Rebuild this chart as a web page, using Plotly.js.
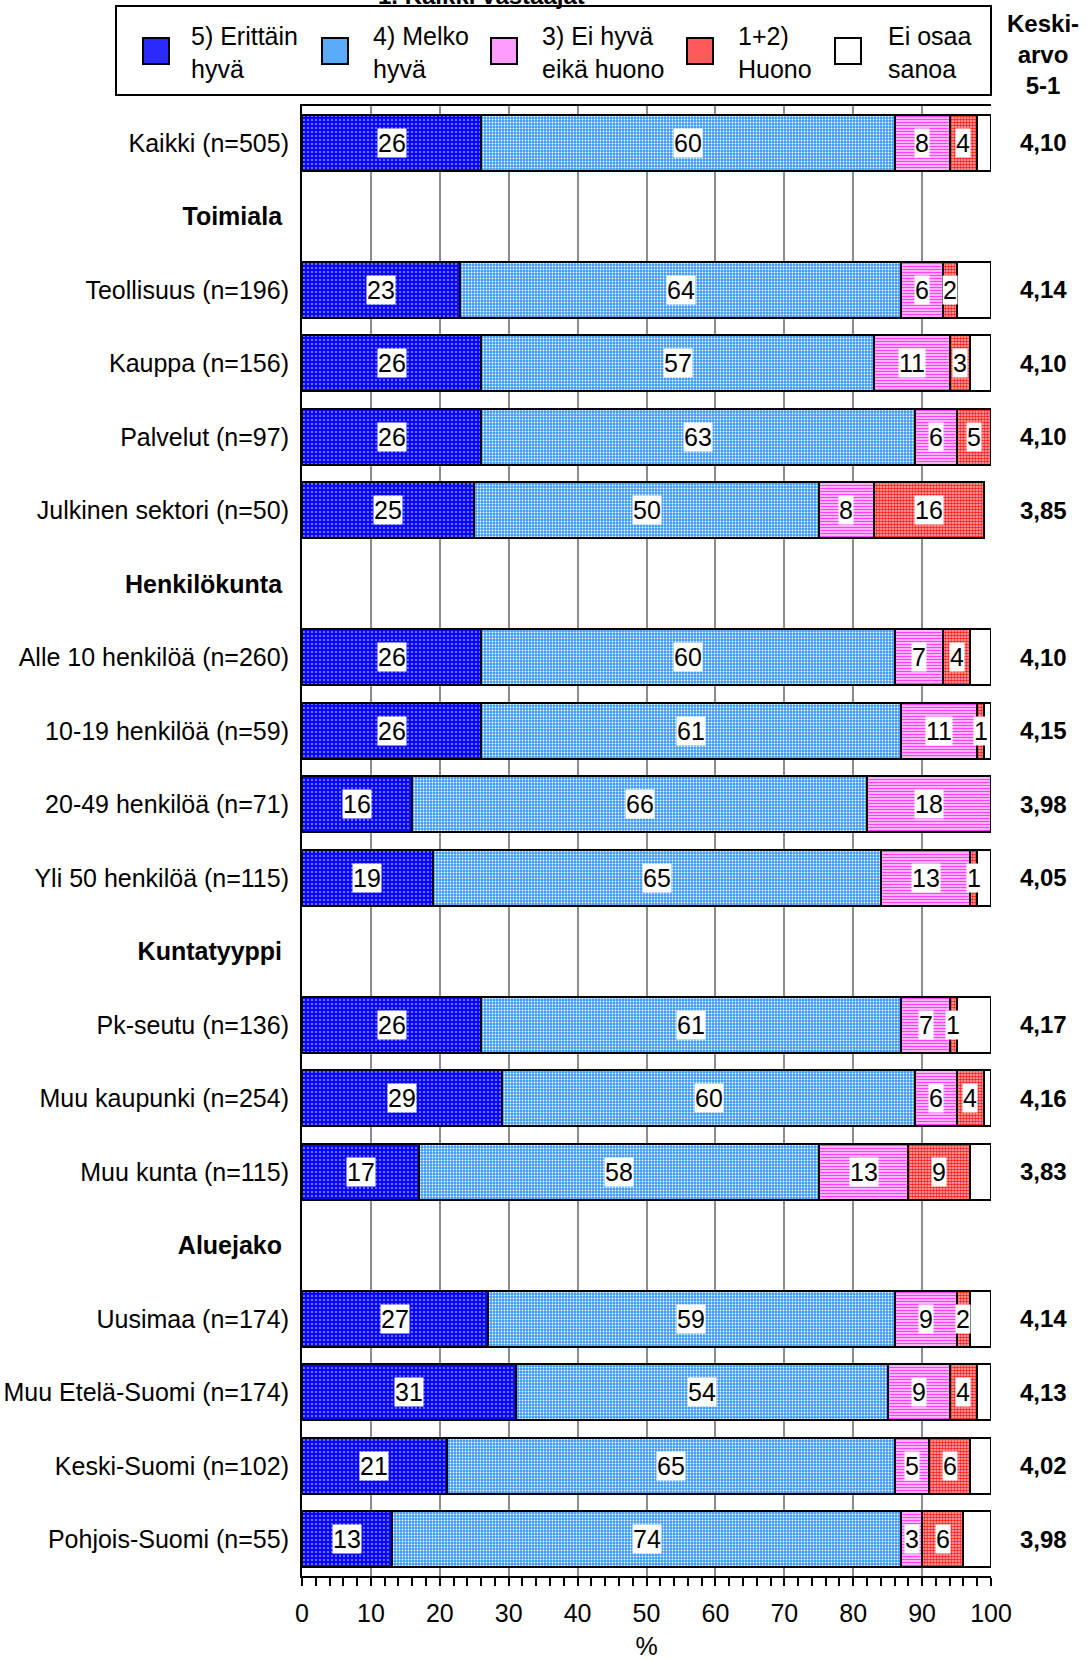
<!DOCTYPE html>
<html>
<head>
<meta charset="utf-8">
<script src="https://cdn.plot.ly/plotly-3.0.1.min.js"></script>
<style>
  html, body { margin: 0; padding: 0; background: #ffffff; }
  #chart { width: 1091px; height: 1660px; }
</style>
</head>
<body>
<div id="chart"></div>
<script>
// Rows of the chart, top to bottom; group headings have no bars.
const categories = [
  'Kaikki (n=505)',
  'Toimiala',
  'Teollisuus (n=196)',
  'Kauppa (n=156)',
  'Palvelut (n=97)',
  'Julkinen sektori (n=50)',
  'Henkilökunta',
  'Alle 10 henkilöä (n=260)',
  '10-19 henkilöä (n=59)',
  '20-49 henkilöä (n=71)',
  'Yli 50 henkilöä (n=115)',
  'Kuntatyyppi',
  'Pk-seutu (n=136)',
  'Muu kaupunki (n=254)',
  'Muu kunta (n=115)',
  'Aluejako',
  'Uusimaa (n=174)',
  'Muu Etelä-Suomi (n=174)',
  'Keski-Suomi (n=102)',
  'Pohjois-Suomi (n=55)'
];
const headings = ['Toimiala', 'Henkilökunta', 'Kuntatyyppi', 'Aluejako'];

// Shares in percent
const erittainHyva = [26, null, 23, 26, 26, 25, null, 26, 26, 16, 19, null, 26, 29, 17, null, 27, 31, 21, 13];
const melkoHyva    = [60, null, 64, 57, 63, 50, null, 60, 61, 66, 65, null, 61, 60, 58, null, 59, 54, 65, 74];
const eiHyvaEika   = [8,  null, 6,  11, 6,  8,  null, 7,  11, 18, 13, null, 7,  6,  13, null, 9,  9,  5,  3];
const huono        = [4,  null, 2,  3,  5,  16, null, 4,  1,  0,  1,  null, 1,  4,  9,  null, 2,  4,  6,  6];
const eiOsaa       = [2,  null, 5,  3,  0,  0,  null, 3,  1,  0,  2,  null, 5,  1,  3,  null, 3,  2,  3,  4];

// Mean on the scale 5-1
const keskiarvo = ['4,10', '', '4,14', '4,10', '4,10', '3,85', '', '4,10', '4,15', '3,98', '4,05', '',
                   '4,17', '4,16', '3,83', '', '4,14', '4,13', '4,02', '3,98'];

const seriesNames = ['5) Erittäin<br>hyvä', '4) Melko<br>hyvä', '3) Ei hyvä<br>eikä huono', '1+2)<br>Huono', 'Ei osaa<br>sanoa'];
const xTicks = [0, 10, 20, 30, 40, 50, 60, 70, 80, 90, 100];

const FONT = 'Liberation Sans, Arial, Helvetica, sans-serif';
const FS = 25;

const styles = [
  { bg: '#0808ff', fg: '#ffffff', shape: '.', size: 4, solidity: 0.12, swatch: '#2a2aff' },
  { bg: '#3898ff', fg: '#ffffff', shape: '.', size: 3, solidity: 0.3, swatch: '#5aaaf8' },
  { bg: '#ffffff', fg: '#ff40ff', shape: '-', size: 3, solidity: 0.6, swatch: '#ff9cff' },
  { bg: '#ffc0c0', fg: '#ff1a1a', shape: '.', size: 3, solidity: 0.6, swatch: '#ff5a5a' },
  { bg: '#ffffff', fg: '#ffffff', shape: '', size: 3, solidity: 0.3, swatch: '#ffffff' }
];
const allSeries = [erittainHyva, melkoHyva, eiHyvaEika, huono, eiOsaa];

const traces = allSeries.map((vals, k) => {
  const st = styles[k];
  const marker = { color: st.bg, line: { color: '#000000', width: 2 } };
  if (st.shape) {
    marker.pattern = { shape: st.shape, fgcolor: st.fg, bgcolor: st.bg, size: st.size, solidity: st.solidity, fillmode: 'replace' };
  }
  return {
    type: 'bar',
    orientation: 'h',
    name: seriesNames[k],
    x: vals,
    y: categories,
    marker: marker,
    hoverinfo: 'skip',
    showlegend: false
  };
});

const annotations = [];

// Value labels in white boxes, centred on each segment
categories.forEach((cat, i) => {
  let start = 0;
  for (let k = 0; k < 4; k++) {
    const v = allSeries[k][i];
    if (v === null || v === undefined) continue;
    if (v > 0) {
      annotations.push({
        x: start + v / 2, y: cat, xref: 'x', yref: 'y',
        text: String(v), showarrow: false,
        bgcolor: '#ffffff', borderpad: 0,
        font: { family: FONT, size: FS, color: '#000000' }
      });
    }
    start += v;
  }
});

// Mean column on the right
annotations.push({
  xref: 'paper', yref: 'paper', x: 1.0755, y: 1.0347,
  xanchor: 'center', yanchor: 'middle', showarrow: false,
  text: '<b>Keski-<br>arvo<br>5-1</b>',
  font: { family: FONT, size: 24, color: '#000000' }
});
categories.forEach((cat, i) => {
  if (!keskiarvo[i]) return;
  annotations.push({
    xref: 'paper', yref: 'y', x: 1.0755, y: cat,
    xanchor: 'center', yanchor: 'middle', showarrow: false,
    text: '<b>' + keskiarvo[i] + '</b>',
    font: { family: FONT, size: 24, color: '#000000' }
  });
});

// Sub-title, mostly above the top edge
annotations.push({
  xref: 'paper', yref: 'paper', x: (481 - 302) / 689, y: 1 + (106 + 4) / 1470,
  xanchor: 'center', yanchor: 'middle', showarrow: false,
  text: '<b>1. Kaikki vastaajat</b>',
  font: { family: FONT, size: 24, color: '#000000' }
});

// Legend: framed box with swatches and two-line labels
const px = (p) => (p - 302) / 689;
const py = (p) => 1 + (106 - p) / 1470;
const shapes = [{
  type: 'rect', xref: 'paper', yref: 'paper',
  x0: px(116), x1: px(991), y0: py(95), y1: py(6),
  line: { color: '#000000', width: 2 }, fillcolor: 'rgba(0,0,0,0)'
}];
const swatchX = [156, 335, 504, 700, 848];
const labelX = [189, 371, 540, 736, 886];
seriesNames.forEach((nm, k) => {
  shapes.push({
    type: 'rect', xref: 'paper', yref: 'paper',
    x0: px(swatchX[k] - 13), x1: px(swatchX[k] + 13),
    y0: py(64), y1: py(38),
    line: { color: '#000000', width: 2 }, fillcolor: styles[k].swatch
  });
  annotations.push({
    xref: 'paper', yref: 'paper', x: px(labelX[k]), y: py(52),
    xanchor: 'left', yanchor: 'middle', align: 'left', showarrow: false,
    text: nm, font: { family: FONT, size: FS, color: '#000000' }
  });
});

const tickText = categories.map(c => headings.includes(c) ? '<b>' + c + '</b>\u00a0' : c);

const layout = {
  width: 1091,
  height: 1660,
  margin: { l: 302, r: 100, t: 106, b: 84, pad: 0 },
  paper_bgcolor: '#ffffff',
  plot_bgcolor: '#ffffff',
  barmode: 'stack',
  bargap: 0.24,
  showlegend: false,
  font: { family: FONT, size: FS, color: '#000000' },
  xaxis: {
    range: [0, 100],
    tickvals: xTicks,
    ticktext: xTicks.map(String),
    ticks: 'outside', ticklen: 8, tickwidth: 2, tickcolor: '#000000',
    ticklabelstandoff: 6,
    minor: { dtick: 2, ticks: 'outside', ticklen: 8, tickwidth: 2, tickcolor: '#000000', showgrid: false },
    showgrid: true, gridcolor: '#8c8c8c', gridwidth: 2,
    zeroline: false,
    showline: true, linecolor: '#000000', linewidth: 2, mirror: true,
    tickfont: { family: FONT, size: FS, color: '#000000' },
    title: { text: '%', font: { family: FONT, size: FS, color: '#000000' }, standoff: 17 },
    fixedrange: true
  },
  yaxis: {
    type: 'category',
    categoryorder: 'array',
    categoryarray: categories,
    range: [categories.length - 0.5, -0.5],
    tickvals: categories,
    ticktext: tickText,
    ticks: 'outside', ticklen: 6, tickcolor: 'rgba(0,0,0,0)',
    showgrid: false, zeroline: false,
    showline: true, linecolor: '#000000', linewidth: 2,
    tickfont: { family: FONT, size: FS, color: '#000000' },
    fixedrange: true
  },
  annotations: annotations,
  shapes: shapes
};

Plotly.newPlot('chart', traces, layout, { staticPlot: true, displayModeBar: false });
</script>
</body>
</html>
